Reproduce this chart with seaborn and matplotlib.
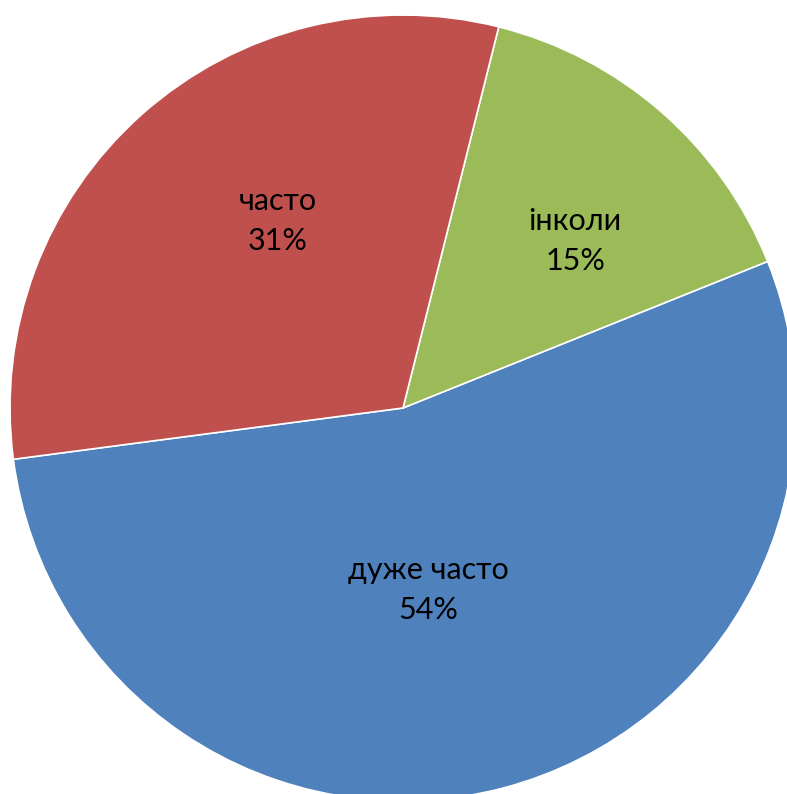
import matplotlib
matplotlib.use("Agg")
import matplotlib.pyplot as plt
import seaborn as sns

labels = ["дуже часто", "інколи", "часто"]
shares = [54, 15, 31]
colors = ["#4F81BD", "#9BBB59", "#C0504D"]

# label positions in pixels (x, y from top)
label_px = [(428, 590), (575, 241), (278, 221)]

sns.set_style("white")
plt.rcParams["font.family"] = ["Lato", "DejaVu Sans"]

W, H = 787, 794
cx, cy, r = 403, 408, 393

fig = plt.figure(figsize=(W / 100, H / 100), dpi=100)
ax = fig.add_axes([0, 0, 1, 1])
ax.pie(shares, colors=colors, startangle=187.5, counterclock=True,
       radius=1, wedgeprops=dict(edgecolor="white", linewidth=1.2))
ax.set_xlim(-cx / r, (W - cx) / r)
ax.set_ylim(-(H - cy) / r, cy / r)
ax.set_aspect("auto")
ax.axis("off")

for name, val, (px, py) in zip(labels, shares, label_px):
    ax.text((px - cx) / r, (cy - py) / r, f"{name}\n{val}%",
            ha="center", va="center", fontsize=22, color="black",
            linespacing=1.5)

fig.savefig("out.png", dpi=100)
